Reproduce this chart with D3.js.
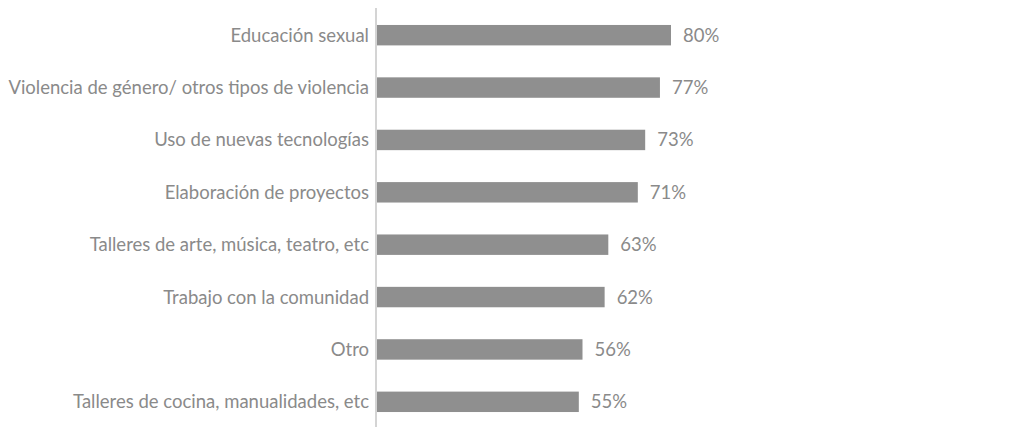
<!DOCTYPE html>
<html>
<head>
<meta charset="utf-8">
<script src="https://cdn.jsdelivr.net/npm/d3@7"></script>
<style>
  html, body { margin: 0; padding: 0; background: #ffffff; }
  svg { display: block; }
  text { font-family: "Lato", "Open Sans", sans-serif; fill: #8a8a8a; }
</style>
</head>
<body>
<svg id="chart" width="1016" height="427"></svg>
<script>
// Topics and share of respondents for each
const categories = [
  "Educación sexual",
  "Violencia de género/ otros tipos de violencia",
  "Uso de nuevas tecnologías",
  "Elaboración de proyectos",
  "Talleres de arte, música, teatro, etc",
  "Trabajo con la comunidad",
  "Otro",
  "Talleres de cocina, manualidades, etc"
];
const values = [80, 77, 73, 71, 63, 62, 56, 55];
const valueLabels = ["80%", "77%", "73%", "71%", "63%", "62%", "56%", "55%"];

const svg = d3.select("#chart");
const x0 = 376;
const fontSize = 18.5;

const x = d3.scaleLinear().domain([0, 80]).range([x0, 671]);
const y = d3.scaleBand()
  .domain(categories)
  .range([9, 428])
  .paddingInner(0.61)
  .paddingOuter(0.305);

const data = categories.map((c, i) => ({ c, v: values[i], label: valueLabels[i] }));

// bars
svg.append("g")
  .selectAll("rect")
  .data(data)
  .join("rect")
  .attr("x", x(0))
  .attr("y", d => y(d.c))
  .attr("width", d => x(d.v) - x(0))
  .attr("height", y.bandwidth())
  .attr("fill", "#8f8f8f");

// category axis
const axis = d3.axisLeft(y).tickSize(0).tickPadding(7);
const g = svg.append("g").attr("transform", `translate(${x0},0)`).call(axis);
g.select(".domain").remove();
g.selectAll("text")
  .attr("font-size", fontSize)
  .attr("dy", "0.35em")
  .style("font-family", "Lato, 'Open Sans', sans-serif")
  .attr("fill", "#8a8a8a");

svg.append("line")
  .attr("x1", x0).attr("x2", x0)
  .attr("y1", 8).attr("y2", 427)
  .attr("stroke", "#d4d4d4")
  .attr("stroke-width", 2);

// value labels
svg.append("g")
  .selectAll("text")
  .data(data)
  .join("text")
  .attr("x", d => x(d.v) + 12)
  .attr("y", d => y(d.c) + y.bandwidth() / 2)
  .attr("dy", "0.35em")
  .attr("font-size", fontSize)
  .text(d => d.label);
</script>
</body>
</html>
